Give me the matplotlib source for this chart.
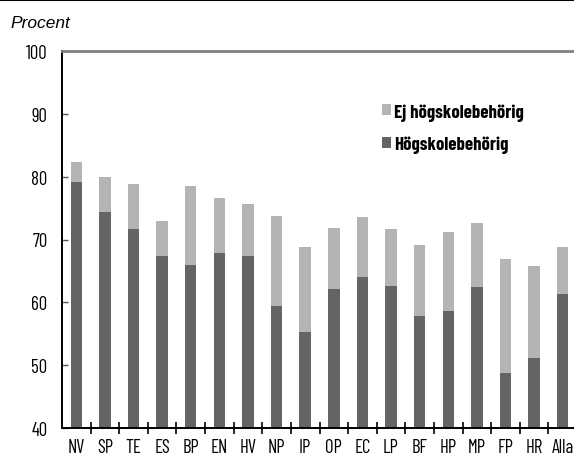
import matplotlib
matplotlib.use("Agg")
import matplotlib.pyplot as plt
from matplotlib import font_manager as fm
import numpy as np

categories = ["NV", "SP", "TE", "ES", "BP", "EN", "HV", "NP", "IP", "OP",
              "EC", "LP", "BF", "HP", "MP", "FP", "HR", "Alla"]
hogskolebehorig = [79.1, 74.4, 71.7, 67.3, 66.0, 67.9, 67.4, 59.4, 55.3, 62.2,
                   64.0, 62.6, 57.9, 58.6, 62.5, 48.8, 51.1, 61.3]
totalt = [82.4, 79.9, 78.9, 73.0, 78.5, 76.6, 75.6, 73.7, 68.8, 71.9,
          73.6, 71.6, 69.1, 71.2, 72.6, 66.9, 65.8, 68.8]
yticks = [40, 50, 60, 70, 80, 90, 100]

names = {f.name for f in fm.fontManager.ttflist}
cond = "DejaVu Sans"
for cand in ["Barlow Condensed", "Roboto Condensed", "Archivo Narrow",
             "Asap Condensed", "PT Sans Narrow"]:
    if cand in names:
        cond = cand
        break

DARK = "#646464"
LIGHT = "#b4b4b4"

fig = plt.figure(figsize=(5.74, 4.56), dpi=100)
W, H = 574, 456
ax = fig.add_axes([62 / W, (456 - 429) / H, 515 / W, (429 - 52) / H])

x = np.arange(len(categories))
ej = [t - h for t, h in zip(totalt, hogskolebehorig)]
ax.bar(x, np.array(hogskolebehorig) - 40, bottom=40, width=0.4, color=DARK,
       label="Högskolebehörig", zorder=2)
ax.bar(x, ej, bottom=hogskolebehorig, width=0.4, color=LIGHT,
       label="Ej högskolebehörig", zorder=2)

ax.set_xlim(-0.5, len(categories) - 0.5)
ax.set_ylim(40, 100)

ax.set_yticks(yticks)
ax.set_yticklabels([str(v) for v in yticks], fontfamily=cond, fontsize=13.5,
                   fontweight="normal")
ax.tick_params(axis="y", direction="in", length=4, width=1, color="#555555",
               pad=10.5)

ax.set_xticks(x)
ax.set_xticklabels(categories, fontfamily=cond, fontsize=13.5,
                   fontweight="normal")
ax.tick_params(axis="x", which="major", length=0, pad=7.5)
ax.set_xticks(np.arange(0.5, len(categories) - 1, 1.0), minor=True)
ax.tick_params(axis="x", which="minor", direction="inout", length=9,
               width=1.2, color="black")

for s in ["left", "bottom"]:
    ax.spines[s].set_color("black")
    ax.spines[s].set_linewidth(1.4)
ax.spines["top"].set_color("#808080")
ax.spines["top"].set_linewidth(2)
ax.spines["right"].set_visible(False)

handles, labels = ax.get_legend_handles_labels()
leg = ax.legend(handles[::-1], labels[::-1], loc="upper left",
                bbox_to_anchor=((381.5 - 62) / 515, (429 - 104) / 377),
                frameon=False,
                prop={"family": cond, "weight": "bold", "size": 13.5},
                handlelength=0.53, handleheight=0.53, handletextpad=0.15,
                labelspacing=0.8, borderaxespad=0, borderpad=0)

fig.text(10 / W, 1 - 28 / H, "Procent", fontstyle="italic",
         fontfamily="Liberation Sans", fontsize=12.5, va="baseline", ha="left")
fig.add_artist(plt.Line2D([0, 1], [1 - 0.8 / H, 1 - 0.8 / H],
                          transform=fig.transFigure, color="black", lw=1.5))

fig.savefig("out.png", dpi=100)
